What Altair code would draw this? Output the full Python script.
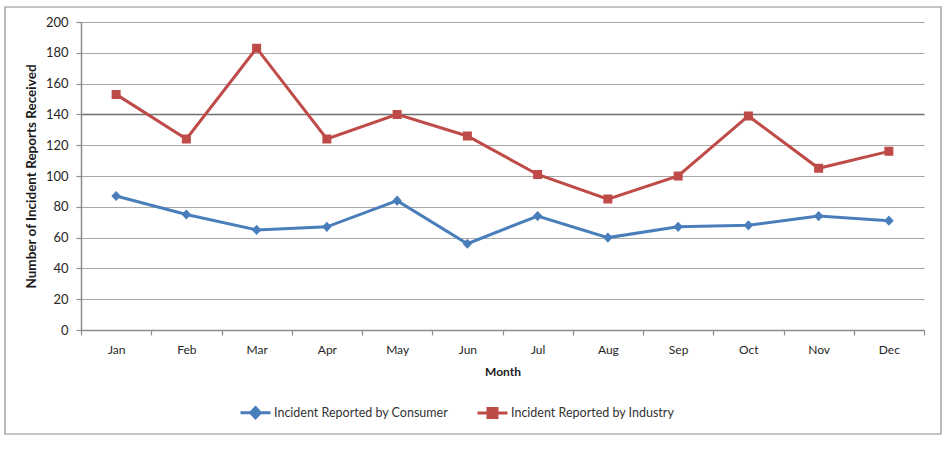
import altair as alt
import pandas as pd

months = ["Jan", "Feb", "Mar", "Apr", "May", "Jun", "Jul", "Aug", "Sep", "Oct", "Nov", "Dec"]
consumer = [87, 75, 65, 67, 84, 56, 74, 60, 67, 68, 74, 71]
industry = [153, 124, 183, 124, 140, 126, 101, 85, 100, 139, 105, 116]
series_names = ["Incident Reported by Consumer", "Incident Reported by Industry"]
y_ticks = [0, 20, 40, 60, 80, 100, 120, 140, 160, 180, 200]

colors = ["#4a7ebb", "#be4b48"]
shapes = [
    "M-1,0H1M0,-0.34L0.32,0L0,0.34L-0.32,0Z",
    "M-1,0H1M-0.3,-0.3H0.3V0.3H-0.3Z",
]

rows = []
for name, vals in zip(series_names, [consumer, industry]):
    for m, v in zip(months, vals):
        rows.append({"Month": m, "Series": name, "Value": v})
df = pd.DataFrame(rows)

x_enc = alt.X(
    "Month:N",
    sort=months,
    scale=alt.Scale(type="band", paddingInner=0, paddingOuter=0),
    axis=alt.Axis(
        title="Month",
        labelAngle=0,
        tickBand="extent",
        grid=False,
        tickSize=5,
        labelPadding=9,
        titlePadding=11,
    ),
)
y_enc = alt.Y(
    "Value:Q",
    scale=alt.Scale(domain=[0, 200]),
    axis=alt.Axis(
        values=y_ticks,
        title="Number of Incident Reports Received",
        tickSize=5,
        labelPadding=8,
        labelFontSize=13,
        titlePadding=7,
        titleFontSize=13.5,
        gridColor={"condition": {"test": "datum.value === 140", "value": "#707070"}, "value": "#a8a8a8"},
        gridWidth={"condition": {"test": "datum.value === 140", "value": 1.6}, "value": 1.2},
    ),
)

legend = alt.Legend(
    title=None,
    orient="none",
    legendX=158,
    legendY=374,
    direction="horizontal",
    columns=2,
    symbolSize=900,
    symbolStrokeWidth=3,
    labelFont="Lato",
    labelFontSize=12.5,
    labelColor="#333333",
    labelOffset=2,
    labelLimit=0,
    columnPadding=22,
    padding=0,
)

border = alt.Chart(alt.Data(values=[{}])).mark_rect(
    fill="transparent", stroke="#8c8c8c", strokeWidth=1.2
).encode(
    x=alt.value(-76), x2=alt.value(860), y=alt.value(-15), y2=alt.value(412)
)

lines = alt.Chart(df).mark_line(strokeWidth=3).encode(
    x=x_enc,
    y=y_enc,
    color=alt.Color(
        "Series:N",
        scale=alt.Scale(domain=series_names[::-1], range=colors[::-1]),
        legend=None,
    ),
    detail="Series:N",
)

points = alt.Chart(df).mark_point(filled=True, opacity=1, size=900).encode(
    x=x_enc,
    y=y_enc,
    fill=alt.Fill("Series:N", scale=alt.Scale(domain=series_names, range=colors), legend=legend),
    stroke=alt.Stroke("Series:N", scale=alt.Scale(domain=series_names, range=colors), legend=legend),
    shape=alt.Shape("Series:N", scale=alt.Scale(domain=series_names, range=shapes), legend=legend),
    strokeWidth=alt.value(0),
)

chart = alt.layer(border, lines, points).properties(
    width=843,
    height=308,
    autosize="none",
    padding={"left": 81, "top": 22, "right": 26, "bottom": 119},
    background="white",
).configure_view(stroke=None).configure_axis(
    labelFont="Lato",
    labelFontSize=12,
    labelColor="#262626",
    titleFont="Lato",
    titleFontWeight="bold",
    titleFontSize=12,
    titleColor="#1a1a1a",
    domainColor="#8c8c8c",
    domainWidth=1.5,
    tickColor="#8c8c8c",
    tickWidth=1.2,
)

chart.save("out.html", embed_options={"renderer": "svg", "actions": False})
